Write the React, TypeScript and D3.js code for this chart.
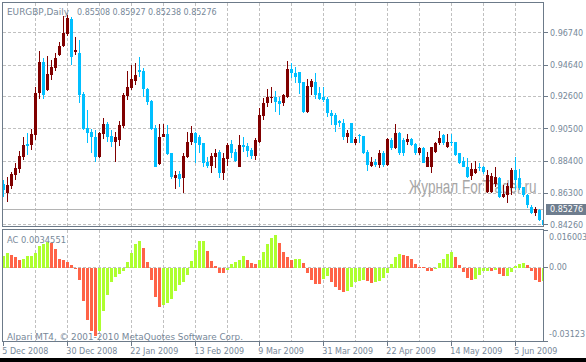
import React from "react";
import * as d3 from "d3";

const W = 586;
const H = 362;

const open = [
  0.8691, 0.8634, 0.8678, 0.8749, 0.8788, 0.8868, 0.8951, 0.8944, 0.9009, 0.9282,
  0.9484, 0.9302, 0.9399, 0.9447, 0.9529, 0.9588, 0.9666, 0.9763, 0.9549, 0.9544,
  0.9276, 0.9055, 0.9029, 0.8996, 0.8866, 0.9016, 0.9081, 0.9003, 0.8964, 0.8977,
  0.9068, 0.9263, 0.9315, 0.9360, 0.9432, 0.9425, 0.9308, 0.9230, 0.9055, 0.8821,
  0.8998, 0.9016, 0.8892, 0.8732, 0.8756, 0.8730, 0.8866, 0.8964, 0.9024, 0.8998,
  0.8955, 0.8836, 0.8808, 0.8868, 0.8899, 0.8762, 0.8853, 0.8951, 0.8899, 0.8803,
  0.8944, 0.8938, 0.8912, 0.8875, 0.8966, 0.9133, 0.9217, 0.9250, 0.9256, 0.9230,
  0.9217, 0.9258, 0.9438, 0.9414, 0.9421, 0.9354, 0.9161, 0.9323, 0.9356, 0.9284,
  0.9256, 0.9243, 0.9154, 0.9139, 0.9102, 0.9089, 0.8998, 0.9085, 0.8959, 0.9009,
  0.9003, 0.8901, 0.8810, 0.8836, 0.8814, 0.8890, 0.8814, 0.8977, 0.8923, 0.9022,
  0.8977, 0.8966, 0.8981, 0.8951, 0.8890, 0.8923, 0.8803, 0.8799, 0.8897, 0.8955,
  0.9009, 0.8929, 0.8962, 0.8962, 0.8890, 0.8840, 0.8803, 0.8743, 0.8764, 0.8803,
  0.8799, 0.8641, 0.8641, 0.8691, 0.8728, 0.8604, 0.8619, 0.8663, 0.8782, 0.8728,
  0.8669, 0.8619, 0.8543, 0.8500, 0.8522, 0.8457,
];

const high = [
  0.8717, 0.8738, 0.8771, 0.8827, 0.8907, 0.8998, 0.9024, 0.9048, 0.9321, 0.9557,
  0.9510, 0.9523, 0.9497, 0.9542, 0.9616, 0.9783, 0.9789, 0.9778, 0.9646, 0.9627,
  0.9289, 0.9172, 0.9048, 0.9042, 0.9031, 0.9120, 0.9094, 0.9042, 0.9029, 0.9100,
  0.9282, 0.9425, 0.9464, 0.9477, 0.9516, 0.9445, 0.9315, 0.9237, 0.9074, 0.9081,
  0.9081, 0.9074, 0.8892, 0.8775, 0.8775, 0.8892, 0.9029, 0.9068, 0.9031, 0.9009,
  0.8957, 0.8868, 0.8892, 0.8918, 0.8912, 0.8892, 0.8957, 0.8977, 0.8918, 0.9009,
  0.8998, 0.8955, 0.8925, 0.8990, 0.9185, 0.9250, 0.9308, 0.9321, 0.9297, 0.9258,
  0.9276, 0.9490, 0.9479, 0.9453, 0.9421, 0.9356, 0.9373, 0.9373, 0.9414, 0.9321,
  0.9321, 0.9256, 0.9172, 0.9152, 0.9107, 0.9113, 0.9042, 0.9089, 0.8998, 0.9016,
  0.9003, 0.8912, 0.8866, 0.8853, 0.8912, 0.8905, 0.8988, 0.8988, 0.9081, 0.9031,
  0.8988, 0.9016, 0.8988, 0.8955, 0.8929, 0.8929, 0.8901, 0.8929, 0.8962, 0.9037,
  0.9016, 0.9016, 0.9016, 0.8966, 0.8894, 0.8868, 0.8858, 0.8829, 0.8842, 0.8825,
  0.8808, 0.8782, 0.8764, 0.8799, 0.8734, 0.8684, 0.8695, 0.8793, 0.8868, 0.8786,
  0.8673, 0.8626, 0.8554, 0.8539, 0.8526, 0.8502,
];

const low = [
  0.8608, 0.8576, 0.8658, 0.8717, 0.8762, 0.8847, 0.8879, 0.8912, 0.8977, 0.9243,
  0.9241, 0.9295, 0.9367, 0.9427, 0.9523, 0.9583, 0.9653, 0.9464, 0.9529, 0.9217,
  0.9042, 0.8957, 0.8892, 0.8834, 0.8860, 0.8983, 0.8964, 0.8931, 0.8834, 0.8938,
  0.9055, 0.9237, 0.9302, 0.9334, 0.9386, 0.9256, 0.9204, 0.9042, 0.8801, 0.8814,
  0.8996, 0.8879, 0.8723, 0.8658, 0.8673, 0.8632, 0.8860, 0.8944, 0.8827, 0.8892,
  0.8803, 0.8793, 0.8762, 0.8795, 0.8730, 0.8717, 0.8808, 0.8860, 0.8836, 0.8803,
  0.8901, 0.8866, 0.8853, 0.8847, 0.8955, 0.9107, 0.9191, 0.9217, 0.9161, 0.9139,
  0.9198, 0.9250, 0.9380, 0.9347, 0.9276, 0.9152, 0.9152, 0.9269, 0.9241, 0.9237,
  0.9226, 0.9128, 0.9074, 0.9031, 0.9063, 0.8977, 0.8955, 0.8955, 0.8944, 0.8955,
  0.8884, 0.8777, 0.8801, 0.8801, 0.8795, 0.8803, 0.8808, 0.8912, 0.8916, 0.8879,
  0.8873, 0.8944, 0.8938, 0.8879, 0.8879, 0.8825, 0.8799, 0.8760, 0.8890, 0.8944,
  0.8944, 0.8923, 0.8938, 0.8873, 0.8821, 0.8799, 0.8728, 0.8717, 0.8756, 0.8777,
  0.8756, 0.8630, 0.8634, 0.8673, 0.8598, 0.8598, 0.8569, 0.8619, 0.8652, 0.8652,
  0.8608, 0.8533, 0.8496, 0.8483, 0.8450, 0.8411,
];

const close = [
  0.8652, 0.8684, 0.8756, 0.8795, 0.8873, 0.8944, 0.8940, 0.9016, 0.9282, 0.9484,
  0.9269, 0.9406, 0.9453, 0.9510, 0.9588, 0.9672, 0.9770, 0.9516, 0.9562, 0.9269,
  0.9048, 0.9024, 0.8996, 0.8866, 0.9022, 0.9081, 0.8996, 0.8964, 0.8996, 0.9074,
  0.9269, 0.9321, 0.9373, 0.9399, 0.9419, 0.9308, 0.9224, 0.9048, 0.8803, 0.8998,
  0.9016, 0.8886, 0.8738, 0.8749, 0.8723, 0.8873, 0.8964, 0.9024, 0.8955, 0.8944,
  0.8829, 0.8808, 0.8873, 0.8892, 0.8762, 0.8862, 0.8944, 0.8892, 0.8840, 0.8944,
  0.8933, 0.8907, 0.8875, 0.8977, 0.9139, 0.9217, 0.9258, 0.9258, 0.9226, 0.9211,
  0.9269, 0.9438, 0.9412, 0.9386, 0.9347, 0.9161, 0.9328, 0.9360, 0.9269, 0.9241,
  0.9237, 0.9152, 0.9133, 0.9074, 0.9085, 0.8998, 0.9020, 0.8959, 0.8985, 0.9003,
  0.8890, 0.8811, 0.8836, 0.8811, 0.8890, 0.8814, 0.8981, 0.8923, 0.9020, 0.8890,
  0.8890, 0.8981, 0.8944, 0.8890, 0.8923, 0.8829, 0.8868, 0.8929, 0.8955, 0.8988,
  0.8955, 0.8966, 0.8955, 0.8879, 0.8829, 0.8803, 0.8738, 0.8786, 0.8786, 0.8797,
  0.8771, 0.8749, 0.8743, 0.8738, 0.8604, 0.8626, 0.8678, 0.8782, 0.8717, 0.8663,
  0.8619, 0.8554, 0.8504, 0.8526, 0.8457, 0.8421,
];

const ac = [
  0.00506, 0.00621, 0.00523, 0.00438, 0.00323, 0.00366, 0.00481, 0.00485, 0.00621, 0.00932,
  0.01004, 0.01077, 0.01047, 0.00791, 0.00366, 0.00311, 0.00238, 0.00098, -0.0006, -0.00515,
  -0.01409, -0.02217, -0.02711, -0.02923, -0.02685, -0.0186, -0.01153, -0.00613, -0.004, -0.00272,
  -0.00132, 0.00238, 0.00621, 0.01017, 0.01119, 0.00834, 0.00238, -0.00515, -0.01251, -0.01677,
  -0.01604, -0.01506, -0.01323, -0.01009, -0.00728, -0.00613, -0.00302, 0.00294, 0.00762, 0.01145,
  0.01153, 0.00719, 0.00268, 0.00081, -0.0023, -0.00238, -0.00089, 0.00166, 0.00226, 0.00311,
  0.00481, 0.00336, 0.00196, 0.00153, 0.00336, 0.00651, 0.01017, 0.0126, 0.014, 0.01047,
  0.00664, 0.00451, 0.00336, 0.00366, 0.00379, 0.00196, -0.0023, -0.00515, -0.00698, -0.00706,
  -0.00472, -0.0037, -0.00613, -0.00838, -0.00966, -0.01038, -0.00983, -0.00813, -0.00626, -0.00557,
  -0.00515, -0.00557, -0.00655, -0.00613, -0.00583, -0.00443, -0.0023, 0.00153, 0.00438, 0.00579,
  0.00523, 0.00515, 0.00366, 0.00153, 0.00026, 0.00013, -0.00132, -0.00136, -0.00038, 0.00196,
  0.00366, 0.00579, 0.00664, 0.00451, 0.00123, -0.00187, -0.00443, -0.00515, -0.00485, -0.00302,
  -0.00157, -0.00132, -0.00136, -0.00115, -0.0026, -0.00345, -0.00336, -0.002, 0.00055, 0.00153,
  0.00196, 0.00098, -0.00132, -0.00515, -0.00626, -0.00583,
];

const priceTicks = [0.9674, 0.9464, 0.926, 0.905, 0.884, 0.863, 0.8426];
const priceTickLabels = ["0.96740", "0.94640", "0.92600", "0.90500", "0.88400", "0.86300", "0.84260"];
const dateTickBars = [0, 16, 32, 48, 64, 80, 96, 112, 128];
const dateTickLabels = [
  "5 Dec 2008", "30 Dec 2008", "22 Jan 2009", "13 Feb 2009", "9 Mar 2009",
  "31 Mar 2009", "22 Apr 2009", "14 May 2009", "5 Jun 2009",
];
const acTicks = [0.016003, 0, -0.03123];
const acTickLabels = ["0.016003", "0.00", "-0.03123"];
const bidPrice = 0.85276;
const bidLabel = "0.85276";
const headerParts = ["EURGBP,Daily", "0.85508", "0.85927", "0.85238", "0.85276"];
const acTitle = "AC 0.0034551";
const copyright = "Alpari MT4, \u00A9 2001-2010 MetaQuotes Software Corp.";
const watermark = "Журнал ForTrader.ru";

const FONT = "'DejaVu Sans', Verdana, sans-serif";
const WM_FONT = "'Liberation Sans', Arial, sans-serif";
const FS = 8;
const TXT = "#778899";
const FRAME = "#6c7a89";
const GRID = "#c0c0c0";
const BULL = "#800000";
const BEAR = "#00bfff";
const AC_UP = "#adff2f";
const AC_DN = "#ff6347";

export default function App() {
  const n = open.length;
  const x = d3.scaleLinear().domain([0, n - 1]).range([3.5, 3.5 + 4 * (n - 1)]);
  const y = d3.scaleLinear().domain([0.8426, 0.9674]).range([224.7, 32.7]);
  const ya = d3.scaleLinear().domain([-0.03123, 0.016003]).range([341, 230]);
  const crisp = (v: number) => Math.floor(v) + 0.5;

  const L = 2.5, R = 543.5, T = 2.5, B = 226.5, AT = 229.5, AB = 341.5;
  const vGrid = d3.range(8, n, 8);
  const headerX = [7, 77, 112.5, 148, 183.5];

  return (
    <div style={{ position: "fixed", left: 0, top: 0, width: W, height: H }}>
      <svg width={W} height={H} style={{ display: "block" }} fontFamily={FONT}>
        <defs>
          <clipPath id="mainClip">
            <rect x={3} y={3} width={540} height={223} />
          </clipPath>
          <clipPath id="acClip">
            <rect x={3} y={230} width={540} height={111} />
          </clipPath>
        </defs>
        <rect x={0} y={0} width={W} height={H} fill="#fff" />

        {/* grid */}
        <g stroke={GRID} strokeWidth={1} strokeDasharray="3,2" shapeRendering="crispEdges">
          {priceTicks.map((p, i) => (
            <line key={"h" + i} x1={L} x2={R} y1={crisp(y(p))} y2={crisp(y(p))} />
          ))}
          {vGrid.map((b) => (
            <line key={"v" + b} x1={x(b)} x2={x(b)} y1={T} y2={B} />
          ))}
          {vGrid.map((b) => (
            <line key={"va" + b} x1={x(b)} x2={x(b)} y1={AT} y2={AB} />
          ))}
          <line x1={L} x2={R} y1={crisp(ya(0))} y2={crisp(ya(0))} />
        </g>

        {/* bid line */}
        <line x1={L} x2={R} y1={crisp(y(bidPrice))} y2={crisp(y(bidPrice))} stroke="#b4b4b4" shapeRendering="crispEdges" />

        {/* watermark (behind candles) */}
        <text transform="translate(409,193) scale(1,1.4)" fontFamily={WM_FONT} fontSize={13.5} fill="#a6a6a6">
          {watermark}
        </text>

        {/* candles */}
        <g clipPath="url(#mainClip)" shapeRendering="crispEdges">
          {open.map((o, i) => {
            const c = close[i];
            const col = c >= o ? BULL : BEAR;
            const top = y(Math.max(o, c));
            const bot = y(Math.min(o, c));
            const yt = Math.round(top);
            const h = Math.max(1, Math.round(bot) - yt);
            return (
              <g key={i}>
                <line x1={x(i)} x2={x(i)} y1={Math.round(y(high[i]))} y2={Math.round(y(low[i]))} stroke={col} strokeWidth={1} />
                <rect x={x(i) - 1.5} y={yt} width={3} height={h} fill={col} />
              </g>
            );
          })}
        </g>

        {/* AC histogram */}
        <g clipPath="url(#acClip)" shapeRendering="crispEdges">
          {ac.map((v, i) => {
            const up = i === 0 || v >= ac[i - 1];
            const y0 = ya(0);
            const y1 = ya(v);
            return (
              <rect key={i} x={x(i) - 1.5} y={Math.min(y0, y1)} width={3} height={Math.max(1, Math.abs(y1 - y0))} fill={up ? AC_UP : AC_DN} />
            );
          })}
        </g>

        {/* frames */}
        <g fill="none" stroke={FRAME} strokeWidth={1} shapeRendering="crispEdges">
          <rect x={L} y={T} width={R - L} height={B - T} />
          <rect x={L} y={AT} width={R - L} height={AB - AT} />
        </g>

        {/* axis ticks */}
        <g stroke={FRAME} shapeRendering="crispEdges">
          {priceTicks.map((p, i) => (
            <line key={"pt" + i} x1={R} x2={R + 4} y1={crisp(y(p))} y2={crisp(y(p))} />
          ))}
          {acTicks.map((v, i) => (
            <line key={"at" + i} x1={R} x2={R + 4} y1={crisp(ya(v))} y2={crisp(ya(v))} />
          ))}
          {dateTickBars.map((b) => (
            <line key={"dt" + b} x1={x(b)} x2={x(b)} y1={AB} y2={AB + 4} />
          ))}
        </g>

        {/* price labels */}
        <g fontSize={FS} fill={TXT}>
          {priceTicks.map((p, i) => (
            <text key={"pl" + i} x={550} y={y(p) + 3}>{priceTickLabels[i]}</text>
          ))}
        </g>
        <rect x={546} y={204} width={40} height={10.5} fill="#6e7d8e" shapeRendering="crispEdges" />
        <text x={550} y={212} fontSize={FS} fill="#fff">{bidLabel}</text>

        {/* AC labels */}
        <g fontSize={FS} fill={TXT}>
          <text x={549} y={240}>{acTickLabels[0]}</text>
          <text x={549} y={ya(acTicks[1]) + 2.6}>{acTickLabels[1]}</text>
          <text x={549} y={337}>{acTickLabels[2]}</text>
        </g>

        {/* date labels */}
        <g fontSize={FS} fill={TXT}>
          {dateTickBars.map((b, i) => (
            <text key={"dl" + b} x={x(b) - 1.2} y={354.3}>{dateTickLabels[i]}</text>
          ))}
        </g>

        {/* header texts */}
        <g fontSize={FS} fill={TXT}>
          <text x={headerX[0]} y={15} textLength={62} lengthAdjust="spacingAndGlyphs">{headerParts[0]}</text>
          {headerParts.slice(1).map((t, i) => (
            <text key={"hd" + i} x={headerX[i + 1]} y={15}>{t}</text>
          ))}
          <text x={7} y={243.3} textLength={59} lengthAdjust="spacingAndGlyphs">{acTitle}</text>
          <text x={7} y={339.8} textLength={236} lengthAdjust="spacingAndGlyphs">{copyright}</text>
        </g>

        {/* bottom dark strip */}
        <rect x={0} y={358} width={W} height={4} fill="#000" />
      </svg>
    </div>
  );
}
